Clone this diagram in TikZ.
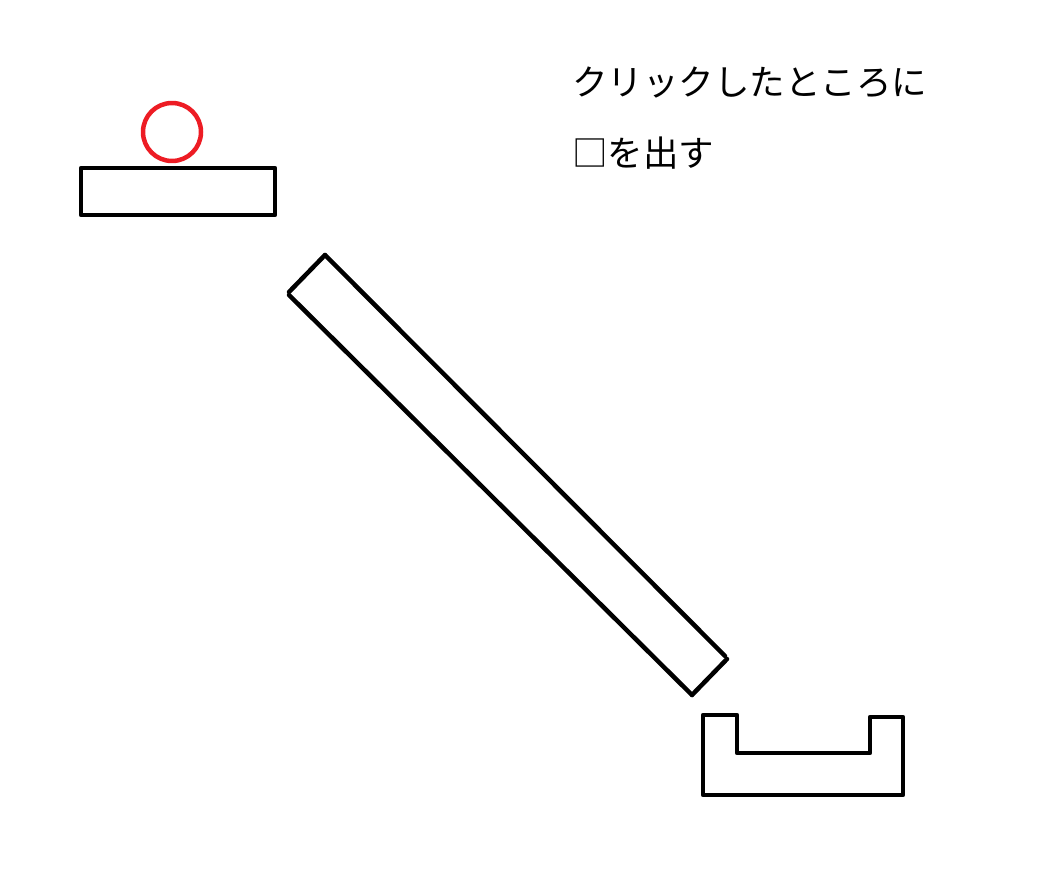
\documentclass[tikz,border=0pt]{standalone}
\usepackage{fontspec}
\newfontfamily\jpfont{Noto Sans CJK JP}
\definecolor{paintred}{HTML}{ED1C24}
\definecolor{ink}{HTML}{000000}

\begin{document}
\begin{tikzpicture}[x=1pt, y=-1pt, line width=4.5pt, line join=round, line cap=round]

  % Canvas
  \useasboundingbox (0,0) rectangle (1059,893);

  % Default font
  \tikzset{every node/.style={font=\jpfont\fontsize{35.5}{40}\selectfont, text=ink, inner sep=0pt}}

  % Note
  \node[anchor=base west] (note_line1) at (570, 96) {クリックしたところに};
  \node[anchor=base west] (note_line2) at (570, 167) {□を出す};

  % Ball on the start platform
  \draw[paintred] (172, 132) circle (29);

  % Start platform
  \draw[ink] (81, 168) rectangle (275, 215);

  % Slope
  \draw[ink] (325, 255) -- (289, 292);
  \draw[ink] (289, 295) -- (692, 695);
  \draw[ink] (692, 695) -- (727, 659);
  \draw[ink] (325, 255) -- (725, 656);

  % Goal cup
  \draw[ink] (737, 753) -- (737, 715) -- (703, 715) -- (703, 795)
    -- (903, 795) -- (903, 717) -- (870, 717) -- (870, 753) -- cycle;

\end{tikzpicture}
\end{document}
